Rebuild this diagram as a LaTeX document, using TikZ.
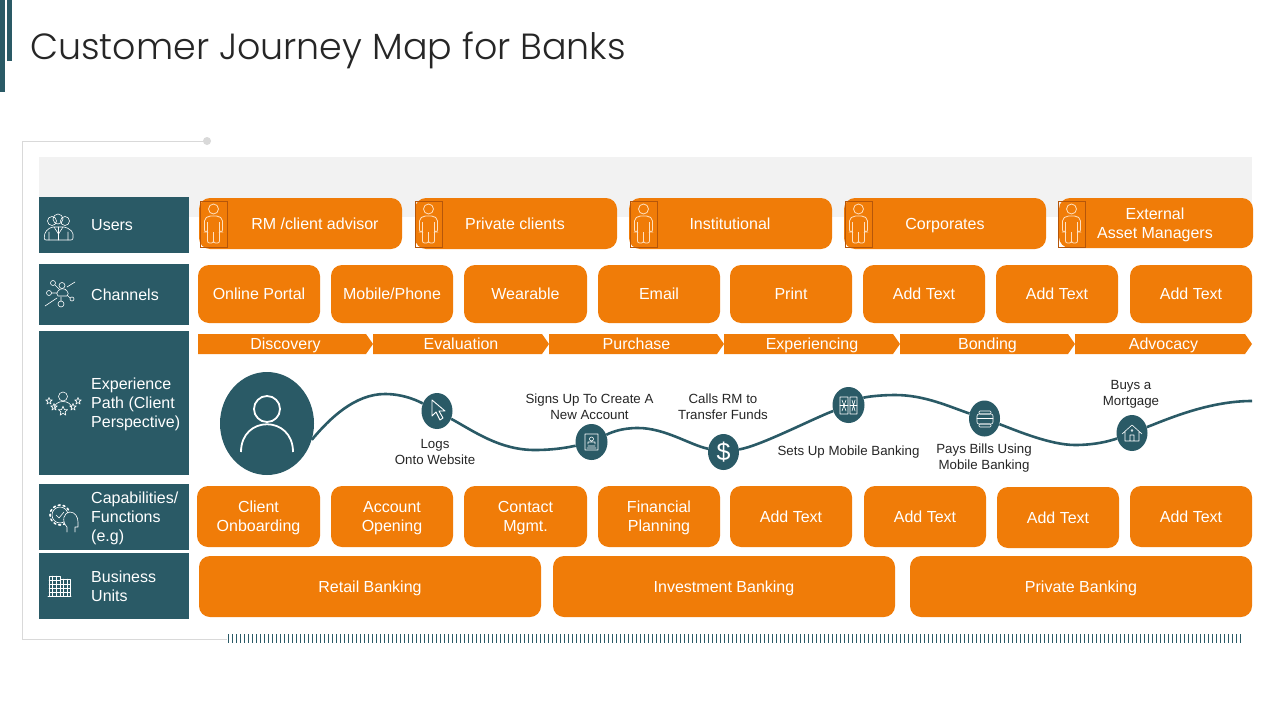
\documentclass[tikz,border=0pt]{standalone}
\usepackage{fontspec}
\setmainfont{Liberation Sans}
\newfontfamily\titlefont{Poppins Light}
\usetikzlibrary{shapes.geometric,shapes.symbols}
\definecolor{bankteal}{HTML}{2A5A66}
\definecolor{bankorange}{HTML}{F07C08}
\definecolor{bandgray}{HTML}{F2F2F2}
\definecolor{framegray}{HTML}{D9D9D9}
\definecolor{manbox}{HTML}{B5560A}
\definecolor{manline}{HTML}{FFE0C0}
\tikzset{
	sidebox/.style={fill=bankteal,draw=none,anchor=north west,inner sep=0pt},
	sidetext/.style={text=white,anchor=west,align=left,inner sep=0pt,font=\fontsize{16}{19}\selectfont},
	orangebox/.style={fill=bankorange,draw=none,rounded corners=11pt,inner sep=0pt,text=white,align=center,text depth=0pt,font=\fontsize{16}{19}\selectfont},
	channelbox/.style={orangebox,minimum width=122pt,minimum height=58pt,text depth=-2pt},
	boxtext/.style={text=white,align=center,inner sep=0pt,text depth=0pt,font=\fontsize{16}{19}\selectfont},
	phase/.style={signal,signal to=east,signal from=nowhere,signal pointer angle=110,fill=bankorange,draw=none,inner sep=0pt,minimum height=20pt,text=white,text depth=0pt,font=\fontsize{16}{19}\selectfont,execute at begin node={\hspace*{7pt}}},
	stop/.style={ellipse,fill=bankteal,draw=none,minimum width=31pt,minimum height=36pt,inner sep=0pt},
	stoptext/.style={align=center,inner sep=0pt,text=black!85,font=\fontsize{13.3}{16}\selectfont},
	journey/.style={draw=bankteal,line width=2.6pt},
	iconline/.style={draw=white,line width=.6pt,line join=round,line cap=round},
	manicon/.pic={
		\draw[draw=manline,line width=.8pt] (0,-14) circle (5);
		\draw[draw=manline,line width=.8pt,rounded corners=2pt] (-5,-7) -- (5,-7) -- (9,-4) -- (9,9) -- (6,9) -- (6,-2) -- (6,20) -- (0,20) -- (0,8) -- (0,20) -- (-6,20) -- (-6,-2) -- (-6,9) -- (-9,9) -- (-9,-4) -- cycle;
	},
	staricon/.pic={
		\draw[iconline] (0,-3.5) -- (1,-1) -- (3.3,-1) -- (1.5,.5) -- (2,3) -- (0,1.5) -- (-2,3) -- (-1.5,.5) -- (-3.3,-1) -- (-1,-1) -- cycle;
	},
}
\begin{document}
\begin{tikzpicture}[x=1pt,y=-1pt]
	\useasboundingbox[fill=white] (0,0) rectangle (1280,720);
	\fill[bankteal] (0,0) rectangle (5,92);
	\fill[bankteal] (7,0) rectangle (12,61);
	\node[anchor=base west,inner sep=0pt,text=black!85] (title) at (30,59) {\titlefont\fontsize{36.4}{44}\selectfont Customer Journey Map for Banks};

	\draw[framegray,line width=1pt] (207,141) -- (22.5,141) -- (22.5,639) -- (227,639);
	\fill[framegray] (207,141) circle (4);
	\draw[bankteal,line width=9pt,dash pattern=on 1.2pt off 2.8pt] (228,638.5) -- (1241,638.5);
	\fill[bandgray] (39,157) rectangle (1252,217);

	\node[sidebox,minimum width=150pt,minimum height=56pt] (usersside) at (39,197) {};
	\node[sidebox,minimum width=150pt,minimum height=61pt] (channelsside) at (39,264) {};
	\node[sidebox,minimum width=150pt,minimum height=144pt] (pathside) at (39,331) {};
	\node[sidebox,minimum width=150pt,minimum height=66pt] (capside) at (39,484) {};
	\node[sidebox,minimum width=150pt,minimum height=66pt] (unitside) at (39,553) {};
	\node[sidetext] (userslabel) at (91,225) {Users};
	\node[sidetext] (channelslabel) at (91,295) {Channels};
	\node[sidetext] (pathlabel) at (91,404) {Experience\\Path (Client\\Perspective)};
	\node[sidetext] (caplabel) at (91,518) {Capabilities/\\Functions\\(e.g)};
	\node[sidetext] (unitlabel) at (91,586) {Business\\Units};

	\draw[iconline] (58,219) circle (5) (52,221) circle (4.5) (65,221) circle (4.5);
	\draw[iconline,rounded corners=2pt] (44,240) -- (45,232) -- (51,227) -- (66,227) -- (73,232) -- (73,240) -- cycle;
	\draw[iconline] (49,240) -- (49,232) (68,240) -- (68,232) (58.5,227) -- (58.5,240) (54,227) -- (58.5,234) -- (63,227);

	\draw[iconline] (53,283) circle (2.5) (62,285.5) circle (3) (49,293) circle (2.5) (72,299) circle (2) (61,304) circle (3);
	\draw[iconline] (58,296) to[bend left=60] (58,291) to[bend left=60] (67,291) to[bend left=60] (67,296) -- cycle;
	\draw[iconline] (67,287) -- (75,282) (51.5,293) -- (57,293) (55,285) -- (59,289) (67,295) -- (70,298) (61,297) -- (61,301) (57,298) -- (45,306);

	\draw[iconline] (63,396.5) circle (4.5);
	\draw[iconline] (54,409) .. controls (54,399) and (72,399) .. (72,409);
	\pic at (49,401) {staricon};
	\pic at (78,401) {staricon};
	\pic at (54,407) {staricon};
	\pic at (73,407) {staricon};
	\pic[scale=1.4] at (63,411) {staricon};

	\draw[iconline] (60,515) circle (8);
	\draw[iconline,line width=1.6pt,dash pattern=on 2pt off 3pt] (60,515) circle (10);
	\draw[iconline] (56,515) -- (59,518) -- (64,512);
	\draw[iconline,fill=bankteal] (67,532) -- (67,527) .. controls (61,521) and (64,512) .. (70,512) .. controls (75,512) and (78,517) .. (78,522) -- (78,527) -- (75,527) -- (75,532);

	\draw[iconline] (49,576) rectangle (60,596) (60,579) rectangle (70,596) (48,596) -- (71,596);
	\draw[iconline,line width=.4pt] (52,576) -- (52,596) (56,576) -- (56,596) (49,580) -- (60,580) (49,584) -- (60,584) (49,588) -- (60,588) (49,592) -- (60,592);
	\draw[iconline,line width=.4pt] (63,579) -- (63,596) (67,579) -- (67,596) (60,584) -- (70,584) (60,588) -- (70,588) (60,592) -- (70,592);

	\node[orangebox,minimum width=203pt,minimum height=51pt] (rmbox) at (300.5,223.5) {};
	\node[orangebox,minimum width=202pt,minimum height=51pt] (privatebox) at (516,223.5) {};
	\node[orangebox,minimum width=203pt,minimum height=51pt] (institutionalbox) at (730.5,223.5) {};
	\node[orangebox,minimum width=202pt,minimum height=51pt] (corporatesbox) at (945,223.5) {};
	\node[orangebox,minimum width=194pt,minimum height=50pt] (externalbox) at (1156,223) {};
	\node[boxtext] (rmtext) at (315,224) {RM /client advisor};
	\node[boxtext] (privatetext) at (515,224) {Private clients};
	\node[boxtext] (institutionaltext) at (730,224) {Institutional};
	\node[boxtext] (corporatestext) at (945,224) {Corporates};
	\node[boxtext] (externaltext) at (1155,223) {External\\Asset Managers};
	\node[draw=manbox,line width=.5pt,minimum width=27pt,minimum height=46pt,inner sep=0pt] (rmman) at (213.5,224) {};
	\node[draw=manbox,line width=.5pt,minimum width=27pt,minimum height=46pt,inner sep=0pt] (privateman) at (428.5,224) {};
	\node[draw=manbox,line width=.5pt,minimum width=27pt,minimum height=46pt,inner sep=0pt] (institutionalman) at (643.5,224) {};
	\node[draw=manbox,line width=.5pt,minimum width=27pt,minimum height=46pt,inner sep=0pt] (corporatesman) at (858.5,224) {};
	\node[draw=manbox,line width=.5pt,minimum width=27pt,minimum height=46pt,inner sep=0pt] (externalman) at (1072,224) {};
	\pic at (213.5,223) {manicon};
	\pic at (428.5,223) {manicon};
	\pic at (643.5,223) {manicon};
	\pic at (858.5,223) {manicon};
	\pic at (1071.5,223) {manicon};

	\node[channelbox] (portal) at (259,294) {Online Portal};
	\node[channelbox] (mobile) at (392,294) {Mobile/Phone};
	\node[channelbox,minimum width=123pt] (wearable) at (525.5,294) {Wearable};
	\node[channelbox] (email) at (659,294) {Email};
	\node[channelbox] (print) at (791,294) {Print};
	\node[channelbox] (channelsix) at (924,294) {Add Text};
	\node[channelbox] (channelseven) at (1057,294) {Add Text};
	\node[channelbox] (channeleight) at (1191,294) {Add Text};

	\node[phase,minimum width=175pt] (discovery) at (282,344) {Discovery};
	\node[phase,minimum width=176pt] (evaluation) at (457.5,344) {Evaluation};
	\node[phase,minimum width=175pt] (purchase) at (633,344) {Purchase};
	\node[phase,minimum width=176pt] (experiencing) at (808.5,344) {Experiencing};
	\node[phase,minimum width=175pt] (bonding) at (984,344) {Bonding};
	\node[phase,minimum width=177pt] (advocacy) at (1160,344) {Advocacy};

	\node[ellipse,fill=bankteal,minimum width=94pt,minimum height=103pt,inner sep=0pt] (person) at (267,423.5) {};
	\draw[draw=white,line width=1.8pt] (267,409) circle (13);
	\draw[draw=white,line width=1.8pt] (241,452) .. controls (241,415) and (293,415) .. (293,452);

	\node[stop] (logsstop) at (437,411) {};
	\node[stop,minimum width=32pt] (signsstop) at (591.5,442) {};
	\node[stop,text=white,font=\fontsize{25}{25}\selectfont] (callsstop) at (723.5,452) {\$};
	\node[stop,minimum width=32pt] (mobilestop) at (848.5,405) {};
	\node[stop] (billsstop) at (984.5,418.5) {};
	\node[stop] (housestop) at (1132,433) {};
	\coordinate (crestone) at (385,394);
	\coordinate (troughone) at (535,450);
	\coordinate (cresttwo) at (638,428);
	\coordinate (crestthree) at (895,395);
	\coordinate (troughtwo) at (1075,445);
	\coordinate (journeyend) at (1252,401);
	\draw[journey] (person.-20) .. controls (330,418) and (355,394) .. (crestone) .. controls (405,394) and (420,402) .. (logsstop);
	\draw[journey] (logsstop) .. controls (475,432) and (500,450) .. (troughone) .. controls (555,450) and (570,447) .. (signsstop);
	\draw[journey] (signsstop) .. controls (612,432) and (622,428) .. (cresttwo) .. controls (665,428) and (690,445) .. (callsstop);
	\draw[journey] (callsstop) .. controls (760,446) and (810,420) .. (mobilestop);
	\draw[journey] (mobilestop) .. controls (865,397) and (880,395) .. (crestthree) .. controls (925,395) and (950,407) .. (billsstop);
	\draw[journey] (billsstop) .. controls (1015,430) and (1050,445) .. (troughtwo) .. controls (1095,445) and (1110,441) .. (housestop);
	\draw[journey] (housestop) .. controls (1170,418) and (1210,401) .. (journeyend);

	\draw[iconline,line width=.9pt] (432,400) -- (432,416) -- (436,412) -- (440,420) -- (443,418) -- (439,411) -- (445,411) -- cycle;
	\draw[iconline] (585,434) rectangle (598,450) (587,448) -- (596,448) (588,446) -- (595,446) (588,444) -- (588,442) -- (595,442) -- (595,444) (591.5,439) circle (2);
	\draw[iconline] (840,397) rectangle (848,414) (850,397) rectangle (857,414) (842,400) -- (846,411) (846,400) -- (842,411) (852,400) -- (855,411) (855,400) -- (852,411);
	\draw[iconline] (840,405.5) -- (848,405.5) (850,405.5) -- (857,405.5);
	\draw[iconline,rounded corners=2pt] (977,414) rectangle (993,424);
	\draw[iconline,rounded corners=1pt] (979,411) rectangle (991,414) (979,424) rectangle (991,427);
	\draw[iconline] (977,418.5) -- (993,418.5);
	\draw[iconline] (1122,434) -- (1132,425) -- (1142,434) (1125,432) -- (1125,441) -- (1139,441) -- (1139,432) (1130,441) -- (1130,435) -- (1134,435) -- (1134,441) (1132,430.5) circle (1);

	\node[stoptext] (logstext) at (435,452) {Logs\\Onto Website};
	\node[stoptext] (signstext) at (589.5,407) {Signs Up To Create A\\New Account};
	\node[stoptext] (callstext) at (723,407) {Calls RM to\\Transfer Funds};
	\node[stoptext] (mobiletext) at (848.5,452.5) {Sets Up Mobile Banking};
	\node[stoptext] (billstext) at (984,458) {Pays Bills Using\\Mobile Banking};
	\node[stoptext] (housetext) at (1131,394) {Buys a\\Mortgage};

	\node[orangebox,minimum width=123pt,minimum height=61pt] (onboarding) at (258.5,516.5) {Client\\Onboarding};
	\node[orangebox,minimum width=122pt,minimum height=61pt] (opening) at (392,516.5) {Account\\Opening};
	\node[orangebox,minimum width=123pt,minimum height=61pt] (contact) at (525.5,516.5) {Contact\\Mgmt.};
	\node[orangebox,minimum width=122pt,minimum height=61pt] (planning) at (659,516.5) {Financial\\Planning};
	\node[orangebox,minimum width=122pt,minimum height=61pt] (capfive) at (791,516.5) {Add Text};
	\node[orangebox,minimum width=122pt,minimum height=61pt] (capsix) at (925,516.5) {Add Text};
	\node[orangebox,minimum width=122pt,minimum height=61pt] (capseven) at (1058,517.5) {Add Text};
	\node[orangebox,minimum width=122pt,minimum height=61pt] (capeight) at (1191,516.5) {Add Text};

	\node[orangebox,minimum width=342pt,minimum height=61pt] (retail) at (370,586.5) {Retail Banking};
	\node[orangebox,minimum width=342pt,minimum height=61pt] (investment) at (724,586.5) {Investment Banking};
	\node[orangebox,minimum width=342pt,minimum height=61pt] (privatebank) at (1081,586.5) {Private Banking};
\end{tikzpicture}
\end{document}
